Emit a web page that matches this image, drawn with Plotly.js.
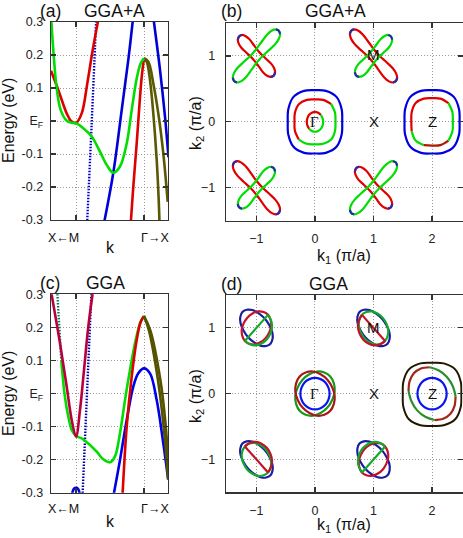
<!DOCTYPE html>
<html>
<head>
<meta charset="utf-8">
<script src="https://cdn.plot.ly/plotly-3.0.1.min.js"></script>
<style>html,body{margin:0;padding:0;background:#fff}#plot{width:463px;height:538px}</style>
</head>
<body>
<div id="plot"></div>
<script>
// k path: X(left) - M - Gamma - X(right)
const kM = 0.25, kG = 0.93, kEnd = 1.17;
const eTicks = [-0.3, -0.2, -0.1, 0, 0.1, 0.2, 0.3];
const eTickText = ['-0.3', '-0.2', '-0.1', 'E<sub>F</sub>', '0.1', '0.2', '0.3'];
const k1Ticks = [-1, 0, 1, 2];
const k2Ticks = [-1, 0, 1];

// (a) GGA+A bands
const aRed1K = [0, 0.073, 0.157, 0.20, 0.25, 0.307, 0.363, 0.417, 0.475];
const aRed1E = [0.152, 0.094, 0.023, 0.0, -0.006, 0.023, 0.114, 0.215, 0.31];
const aGreenK = [0.004, 0.023, 0.057, 0.097, 0.157, 0.207, 0.25, 0.323, 0.407, 0.49, 0.557, 0.623, 0.69, 0.757, 0.807, 0.857, 0.897, 0.93];
const aGreenE = [0.30, 0.215, 0.099, 0.033, 0.001, -0.005, -0.007, -0.022, -0.047, -0.093, -0.133, -0.157, -0.138, -0.068, 0.033, 0.129, 0.175, 0.19];
const aRed2K = [0.795, 0.823, 0.857, 0.883, 0.907, 0.93];
const aRed2E = [-0.32, -0.199, -0.068, 0.043, 0.134, 0.19];
const aOlive1K = [0.93, 0.957, 0.99, 1.023, 1.057, 1.077, 1.085];
const aOlive1E = [0.19, 0.18, 0.124, 0.023, -0.118, -0.239, -0.31];
const aOlive2K = [0.93, 0.973, 1.023, 1.073, 1.123, 1.167];
const aOlive2E = [0.19, 0.18, 0.114, 0.023, -0.098, -0.245];
const aBlue1K = [0.361, 0.407, 0.452];
const aBlue1E = [-0.31, -0.007, 0.31];
const aBlue2K = [0.53, 0.623, 0.707, 0.773, 0.82];
const aBlue2E = [-0.31, -0.157, 0.033, 0.185, 0.31];
const aBlue3K = [1.025, 1.09, 1.14, 1.175];
const aBlue3E = [0.31, 0.155, 0.013, -0.11];

// (c) GGA bands
const cRed1K = [0.0, 0.09, 0.157, 0.207, 0.25, 0.29, 0.33, 0.373, 0.42];
const cRed1E = [0.31, 0.152, 0.021, -0.08, -0.131, -0.05, 0.071, 0.202, 0.31];
const cTealK = [0.062, 0.103];
const cTealE = [0.31, 0.10];
const cGreenK = [0.103, 0.137, 0.173, 0.207, 0.25, 0.307, 0.373, 0.457, 0.523, 0.59, 0.64, 0.69, 0.74, 0.79, 0.84, 0.89, 0.93];
const cGreenE = [0.10, -0.005, -0.07, -0.11, -0.128, -0.136, -0.151, -0.176, -0.199, -0.208, -0.19, -0.12, -0.02, 0.071, 0.152, 0.212, 0.234];
const cRed2K = [0.713, 0.757, 0.807, 0.857, 0.897, 0.93];
const cRed2E = [-0.32, -0.1, 0.051, 0.162, 0.217, 0.234];
const cBlueBumpK = [0.205, 0.23, 0.25, 0.27, 0.292];
const cBlueBumpE = [-0.31, -0.288, -0.285, -0.288, -0.31];
const cBlueDotK = [0.315, 0.405];
const cBlueDotE = [-0.31, 0.31];
const cBlue2K = [0.618, 0.69, 0.757, 0.823, 0.873, 0.93, 0.99, 1.057, 1.123, 1.172];
const cBlue2E = [-0.32, -0.201, -0.08, 0.021, 0.061, 0.076, 0.061, -0.02, -0.151, -0.26];
const cOlive1K = [0.93, 0.98, 1.07, 1.13, 1.172];
const cOlive1E = [0.234, 0.19, 0.04, -0.11, -0.26];
const cOlive2K = [0.93, 0.994, 1.094, 1.145, 1.172];
const cOlive2E = [0.234, 0.19, 0.04, -0.09, -0.205];

// Fermi surface contour shapes (unit templates, 16 steps, closed)
const CI_X = [1, 0.92, 0.71, 0.38, 0, -0.38, -0.71, -0.92, -1, -0.92, -0.71, -0.38, 0, 0.38, 0.71, 0.92, 1];
const CI_Y = [0, 0.38, 0.71, 0.92, 1, 0.92, 0.71, 0.38, 0, -0.38, -0.71, -0.92, -1, -0.92, -0.71, -0.38, 0];
const SQ_X = [1, 0.98, 0.79, 0.40, 0, -0.40, -0.79, -0.98, -1, -0.98, -0.79, -0.40, 0, 0.40, 0.79, 0.98, 1];
const SQ_Y = [0, 0.40, 0.79, 0.98, 1, 0.98, 0.79, 0.40, 0, -0.40, -0.79, -0.98, -1, -0.98, -0.79, -0.40, 0];
// (b) M-point lobes, u along the diagonal, v across
const LONG_U = [-0.54, -0.52, -0.46, -0.36, -0.22, -0.08, 0.08, 0.22, 0.36, 0.46, 0.52, 0.54, 0.52, 0.46, 0.36, 0.22, 0.08, -0.08, -0.22, -0.36, -0.46, -0.52, -0.54];
const LONG_V = [0, 0.05, 0.085, 0.10, 0.09, 0.075, 0.075, 0.09, 0.10, 0.085, 0.05, 0, -0.05, -0.085, -0.10, -0.09, -0.075, -0.075, -0.09, -0.10, -0.085, -0.05, 0];
const SHORT_U = [-0.42, -0.40, -0.35, -0.27, -0.15, 0, 0.15, 0.27, 0.35, 0.40, 0.42, 0.40, 0.35, 0.27, 0.15, 0, -0.15, -0.27, -0.35, -0.40, -0.42];
const SHORT_V = [0, 0.05, 0.08, 0.095, 0.085, 0.075, 0.085, 0.095, 0.08, 0.05, 0, -0.05, -0.08, -0.095, -0.085, -0.075, -0.085, -0.095, -0.08, -0.05, 0];
const mCenters = [[1, 1], [-1, 1], [-1, -1], [1, -1]];

const R2 = Math.SQRT1_2;
const DOTS = '1.5px,1.5px';
const traces = [];

function band(ax, xs, ys, color, dash, width) {
  traces.push({x: xs, y: ys, xaxis: 'x' + ax, yaxis: 'y' + ax, mode: 'lines', hoverinfo: 'skip',
    line: {color: color, width: width || 2.6, shape: 'spline', dash: dash || 'solid'}});
}
function span(i0, i1) { const a = []; for (let i = i0; i <= i1; i++) a.push(i % 16); return a; }
function pick(arr, idx) { return idx.map(i => arr[i]); }
// place a shape (u,v) at (cx,cy); dir 'fs' = along "/", 'bs' = along "\", else axis aligned
function place(cx, cy, us, vs, dir) {
  let d1 = [1, 0], d2 = [0, 1];
  if (dir === 'fs') { d1 = [R2, R2]; d2 = [-R2, R2]; }
  if (dir === 'bs') { d1 = [R2, -R2]; d2 = [R2, R2]; }
  return {x: us.map((u, i) => cx + u * d1[0] + vs[i] * d2[0]), y: us.map((u, i) => cy + u * d1[1] + vs[i] * d2[1])};
}
function fs(ax, p, color, width, linear) {
  traces.push({x: p.x, y: p.y, xaxis: 'x' + ax, yaxis: 'y' + ax, mode: 'lines', hoverinfo: 'skip',
    line: {color: color, width: width || 2.2, shape: linear ? 'linear' : 'spline'}});
}
function tmpl(tx, ty, a, b, idx) {
  idx = idx || span(0, 16).map((v, i) => i === 16 ? 16 : v);
  return [idx.map(i => tx[i] * a), idx.map(i => ty[i] * b)];
}

// ---- (a)
band('', aBlue1K, aBlue1E, '#0000c8', DOTS, 2.4);
band('', aBlue2K, aBlue2E, '#0000d8');
band('', aBlue3K, aBlue3E, '#0000d8');
band('', aRed1K, aRed1E, '#dd0000');
band('', aRed2K, aRed2E, '#dd0000');
band('', aOlive1K, aOlive1E, '#5a5800');
band('', aOlive2K, aOlive2E, '#5a5800');
band('', aGreenK, aGreenE, '#00dd00');

// ---- (c)
band('3', cBlueDotK, cBlueDotE, '#0000b0', DOTS, 2.4);
band('3', cBlueBumpK, cBlueBumpE, '#0000e0');
band('3', cBlue2K, cBlue2E, '#0000e8');
band('3', cTealK, cTealE, '#007a5a', DOTS, 2.4);
band('3', cGreenK, cGreenE, '#00dd00');
band('3', cRed1K, cRed1E, '#b8003a');
band('3', cRed2K, cRed2E, '#dd0000');
band('3', cOlive1K, cOlive1E, '#555300');
band('3', cOlive2K, cOlive2E, '#555300');

// ---- (b) GGA+A Fermi surface
const bRed = '#e00000', bGreen = '#00dd00', bBlue = '#0000e0', tip = '#2a2aa8';
mCenters.forEach(([cx, cy]) => {
  const redLong = cx * cy > 0;
  const ru = redLong ? LONG_U : SHORT_U, rv = redLong ? LONG_V : SHORT_V;
  const gu = redLong ? SHORT_U : LONG_U, gv = redLong ? SHORT_V : LONG_V;
  fs('2', place(cx, cy, ru, rv, 'bs'), bRed);
  fs('2', place(cx, cy, gu, gv, 'fs'), bGreen);
  [[ru, rv, 'bs'], [gu, gv, 'fs']].forEach(([u, v, d]) => {
    const n = u.length - 1, h = n / 2;
    fs('2', place(cx, cy, pick(u, [n - 1, 0, 1]), pick(v, [n - 1, 0, 1]), d), tip);
    fs('2', place(cx, cy, pick(u, [h - 1, h, h + 1]), pick(v, [h - 1, h, h + 1]), d), tip);
  });
});
// Gamma
let t = tmpl(CI_X, CI_Y, 0.14, 0.15, span(2, 10)); fs('2', place(0, 0, t[0], t[1]), bRed);
t = tmpl(CI_X, CI_Y, 0.14, 0.15, span(10, 18)); fs('2', place(0, 0, t[0], t[1]), bGreen);
t = tmpl(SQ_X, SQ_Y, 0.35, 0.34, span(2, 10)); fs('2', place(0, 0, t[0], t[1]), bRed);
t = tmpl(SQ_X, SQ_Y, 0.35, 0.34, span(10, 18)); fs('2', place(0, 0, t[0], t[1]), bGreen);
t = tmpl(SQ_X, SQ_Y, 0.465, 0.48); fs('2', place(0, 0, t[0], t[1]), bBlue);
// Z
t = tmpl(SQ_X, SQ_Y, 0.355, 0.36, span(2, 9)); fs('2', place(2, 0, t[0], t[1]), bRed);
t = tmpl(SQ_X, SQ_Y, 0.355, 0.36, span(9, 11)); fs('2', place(2, 0, t[0], t[1]), bGreen);
t = tmpl(SQ_X, SQ_Y, 0.355, 0.36, span(11, 14)); fs('2', place(2, 0, t[0], t[1]), '#b01800');
t = tmpl(SQ_X, SQ_Y, 0.355, 0.36, span(14, 18)); fs('2', place(2, 0, t[0], t[1]), bGreen);
t = tmpl(SQ_X, SQ_Y, 0.47, 0.48); fs('2', place(2, 0, t[0], t[1]), bBlue);

// ---- (d) GGA Fermi surface
const dRed = '#c0142a', dGreen = '#14a82c', dBlue = '#1c1ca0';
mCenters.forEach(([cx, cy]) => {
  const redChord = cx * cy > 0;           // (1,1),(-1,-1): red chord along "\"
  const dir = redChord ? 'bs' : 'fs';
  const chordCol = redChord ? dRed : dGreen, ringCol = redChord ? dGreen : dRed;
  const side = (cy > 0) ? span(8, 16) : span(0, 8);
  let e = tmpl(CI_X, CI_Y, 0.34, 0.20); fs('4', place(cx, cy, e[0], e[1], 'bs'), dBlue);
  e = tmpl(CI_X, CI_Y, 0.28, 0.22); fs('4', place(cx, cy, e[0], e[1], dir), ringCol);
  const s = side.map((v, i) => (i === side.length - 1 && v === 0) ? 16 : v);
  e = tmpl(CI_X, CI_Y, 0.28, 0.25, s); fs('4', place(cx, cy, e[0], e[1], dir), chordCol);
  fs('4', place(cx, cy, [-0.28, 0.28], [0, 0], dir), chordCol, 2.2, true);
});
t = tmpl(CI_X, CI_Y, 0.37, 0.30); fs('4', place(0, 0, t[0], t[1], 'fs'), '#189818');
t = tmpl(CI_X, CI_Y, 0.37, 0.30); fs('4', place(0, 0, t[0], t[1], 'bs'), '#a81818');
t = tmpl(CI_X, CI_Y, 0.25, 0.24); fs('4', place(0, 0, t[0], t[1]), '#0a14f0');
t = tmpl(SQ_X, SQ_Y, 0.5, 0.48); fs('4', place(2, -0.01, t[0], t[1]), '#221800', 2);
[[14, 18, '#a02818'], [6, 10, '#a02818'], [2, 6, '#28902a'], [10, 14, '#28902a']].forEach(([i0, i1, c]) => {
  const e = tmpl(CI_X, CI_Y, 0.44, 0.36, span(i0, i1)); fs('4', place(2, 0, e[0], e[1], 'bs'), c);
});
t = tmpl(CI_X, CI_Y, 0.25, 0.24); fs('4', place(2, 0, t[0], t[1]), '#0a14f0');

// ---- layout
const W = 463, H = 538;
const px = v => v / W, py = v => 1 - v / H;
function frame(extra) {
  return Object.assign({
    showline: true, mirror: 'allticks', linecolor: '#333', linewidth: 1.4,
    ticks: 'inside', ticklen: 5, tickwidth: 1.2, tickcolor: '#333',
    showgrid: true, gridcolor: '#9a9a9a', griddash: '1px,2px', gridwidth: 1,
    zeroline: false, fixedrange: true,
    tickfont: {family: 'Liberation Sans, Arial, sans-serif', size: 12.5, color: '#222'}
  }, extra);
}
const bandX = d => frame({domain: d, range: [0, kEnd], tickvals: [kM, kG], showticklabels: false});
const bandY = d => frame({domain: d, range: [-0.3, 0.3], tickvals: eTicks, ticktext: eTickText, ticklabelstandoff: 4});
const fsX = d => frame({domain: d, range: [-1.52, 2.52], tickvals: k1Ticks, ticklabelstandoff: 6});
const fsY = d => frame({domain: d, range: [-1.5, 1.5], tickvals: k2Ticks, ticklabelstandoff: 7});

const F = 'Liberation Sans, Arial, sans-serif';
function txt(text, x, y, size, extra) {
  return Object.assign({text: text, x: px(x), y: py(y), xref: 'paper', yref: 'paper', showarrow: false,
    xanchor: 'center', yanchor: 'middle', font: {family: F, size: size, color: '#111'}}, extra || {});
}
function lab(text, ax, x, y, fam) {
  return {text: text, x: x, y: y, xref: 'x' + ax, yref: 'y' + ax, showarrow: false,
    font: {family: fam || F, size: 15, color: '#111'}};
}
const annotations = [
  txt('(a)', 50, 11, 17.5), txt('GGA+A', 114, 11, 17.5),
  txt('(b)', 231, 11, 17.5), txt('GGA+A', 335, 11, 17.5),
  txt('(c)', 50, 283, 17.5), txt('GGA', 105, 283, 17.5),
  txt('(d)', 231, 284, 17.5), txt('GGA', 328, 284, 17.5),
  txt('Energy (eV)', 8, 121, 16, {textangle: -90}), txt('Energy (eV)', 8, 394, 16, {textangle: -90}),
  txt('k', 110, 248, 16), txt('k', 110, 521, 16),
  txt('X\u2190M', 63, 238, 12.5), txt('X\u2190M', 63, 509, 12.5),
  txt('\u0393\u2192X', 155, 238, 12.5), txt('\u0393\u2192X', 155, 509, 12.5),
  txt('k<sub>2</sub> (\u03c0/a)', 196, 123, 16, {textangle: -90}),
  txt('k<sub>2</sub> (\u03c0/a)', 196, 396, 16, {textangle: -90}),
  txt('k<sub>1</sub> (\u03c0/a)', 344, 256, 16), txt('k<sub>1</sub> (\u03c0/a)', 344, 525, 16),
  lab('\u0393', '2', 0, 0, 'Liberation Serif, serif'), lab('X', '2', 1, 0), lab('Z', '2', 2, 0), lab('M', '2', 1, 1.02),
  lab('\u0393', '4', 0, 0, 'Liberation Serif, serif'), lab('X', '4', 1, 0), lab('Z', '4', 2, 0), lab('M', '4', 1, 1.0)
];

const layout = {
  width: W, height: H, margin: {l: 0, r: 0, t: 0, b: 0},
  paper_bgcolor: '#fff', plot_bgcolor: '#fff', showlegend: false,
  font: {family: F, color: '#222'},
  xaxis: bandX([51 / W, 168 / W]), yaxis: bandY([py(220), py(22)]),
  xaxis2: fsX([226 / W, 462.5 / W]), yaxis2: fsY([py(220.7), py(23)]),
  xaxis3: bandX([51 / W, 168 / W]), yaxis3: bandY([py(492.7), py(294.3)]),
  xaxis4: fsX([226 / W, 462.5 / W]), yaxis4: fsY([py(492.3), py(295)]),
  annotations: annotations
};
layout.yaxis.anchor = 'x'; layout.xaxis.anchor = 'y';
layout.xaxis2.anchor = 'y2'; layout.yaxis2.anchor = 'x2';
layout.xaxis3.anchor = 'y3'; layout.yaxis3.anchor = 'x3';
layout.xaxis4.anchor = 'y4'; layout.yaxis4.anchor = 'x4';

Plotly.newPlot('plot', traces, layout, {staticPlot: true});
</script>
</body>
</html>
